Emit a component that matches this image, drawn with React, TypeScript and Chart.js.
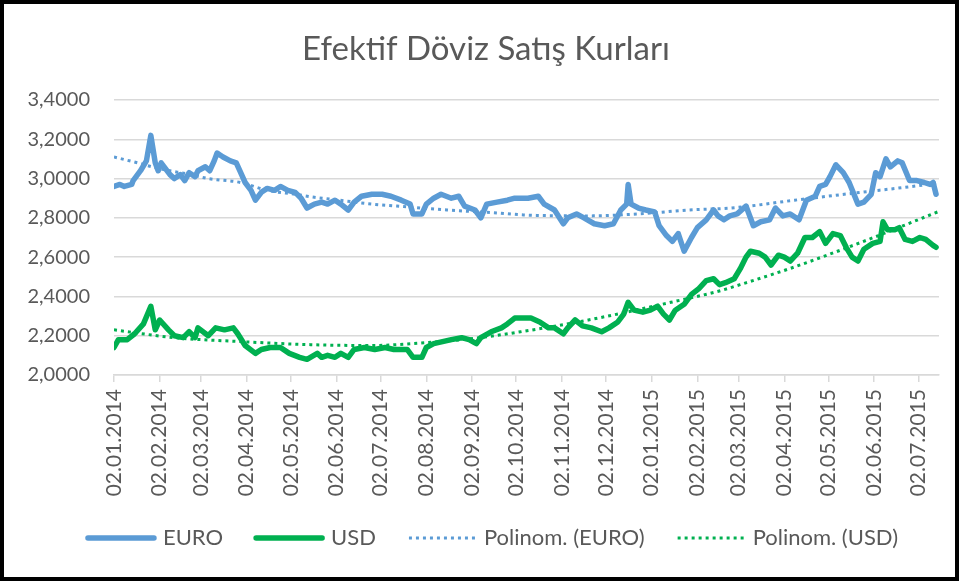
import React, { useEffect, useRef } from "react";
import { Chart, registerables } from "chart.js";
Chart.register(...registerables);

// x values are calendar days counted from 02.01.2014
const tickDays = [0, 31, 59, 90, 120, 151, 181, 212, 243, 273, 304, 334, 365, 396, 424, 455, 485, 516, 546];
const tickLabels = [
  "02.01.2014", "02.02.2014", "02.03.2014", "02.04.2014", "02.05.2014", "02.06.2014",
  "02.07.2014", "02.08.2014", "02.09.2014", "02.10.2014", "02.11.2014", "02.12.2014",
  "02.01.2015", "02.02.2015", "02.03.2015", "02.04.2015", "02.05.2015", "02.06.2015", "02.07.2015",
];
const yTicks = [2.0, 2.2, 2.4, 2.6, 2.8, 3.0, 3.2, 3.4];

const euroDays = [0, 4, 7, 12, 13, 18, 22, 25, 28, 30, 32, 38, 41, 45, 48, 51, 55, 57, 62, 65, 68, 70, 74, 79, 83, 86, 89, 93, 96, 100, 104, 109, 113, 118, 123, 127, 131, 136, 141, 145, 150, 154, 159, 163, 168, 175, 182, 188, 195, 201, 203, 209, 212, 217, 222, 229, 234, 238, 245, 249, 253, 260, 267, 272, 278, 281, 288, 292, 299, 305, 308, 314, 319, 326, 333, 339, 344, 348, 349, 351, 356, 361, 367, 370, 375, 379, 383, 387, 392, 396, 402, 407, 410, 414, 418, 423, 429, 434, 439, 445, 449, 454, 459, 465, 470, 476, 479, 483, 486, 490, 495, 499, 505, 509, 514, 517, 520, 524, 527, 532, 535, 540, 545, 550, 554, 556, 558];
const euroValues = [2.96, 2.97, 2.96, 2.97, 2.99, 3.04, 3.09, 3.22, 3.08, 3.04, 3.08, 3.02, 3.0, 3.02, 2.99, 3.03, 3.01, 3.04, 3.06, 3.04, 3.09, 3.13, 3.11, 3.09, 3.08, 3.03, 2.98, 2.94, 2.89, 2.93, 2.95, 2.94, 2.96, 2.94, 2.93, 2.9, 2.85, 2.87, 2.88, 2.87, 2.89, 2.87, 2.84, 2.88, 2.91, 2.92, 2.92, 2.91, 2.89, 2.87, 2.82, 2.82, 2.87, 2.9, 2.92, 2.9, 2.91, 2.86, 2.84, 2.8, 2.87, 2.88, 2.89, 2.9, 2.9, 2.9, 2.91, 2.87, 2.84, 2.77, 2.8, 2.82, 2.8, 2.77, 2.76, 2.77, 2.84, 2.87, 2.97, 2.87, 2.85, 2.84, 2.83, 2.76, 2.71, 2.68, 2.72, 2.63, 2.7, 2.75, 2.79, 2.84, 2.81, 2.79, 2.81, 2.82, 2.86, 2.76, 2.78, 2.79, 2.85, 2.81, 2.82, 2.79, 2.89, 2.91, 2.96, 2.97, 3.01, 3.07, 3.03, 2.98, 2.87, 2.88, 2.92, 3.03, 3.01, 3.1, 3.06, 3.09, 3.08, 2.99, 2.99, 2.98, 2.97, 2.98, 2.92];

const usdDays = [0, 3, 9, 14, 20, 25, 28, 31, 37, 41, 47, 51, 55, 57, 64, 69, 75, 81, 84, 89, 96, 100, 106, 113, 119, 126, 131, 138, 141, 145, 150, 154, 159, 163, 170, 177, 184, 190, 199, 203, 209, 212, 217, 223, 229, 236, 241, 246, 249, 256, 263, 267, 272, 278, 283, 289, 295, 299, 305, 308, 313, 318, 324, 331, 336, 342, 346, 349, 353, 359, 364, 369, 373, 377, 381, 387, 392, 397, 402, 407, 411, 415, 421, 425, 429, 432, 438, 442, 446, 451, 455, 459, 464, 469, 474, 479, 483, 488, 493, 497, 501, 505, 509, 515, 520, 522, 525, 530, 533, 537, 542, 547, 551, 556, 558];
const usdValues = [2.14, 2.18, 2.18, 2.21, 2.26, 2.35, 2.23, 2.28, 2.23, 2.2, 2.19, 2.22, 2.19, 2.24, 2.2, 2.24, 2.23, 2.24, 2.21, 2.15, 2.11, 2.13, 2.14, 2.14, 2.11, 2.09, 2.08, 2.11, 2.09, 2.1, 2.09, 2.11, 2.09, 2.13, 2.14, 2.13, 2.14, 2.13, 2.13, 2.09, 2.09, 2.14, 2.16, 2.17, 2.18, 2.19, 2.18, 2.16, 2.19, 2.22, 2.24, 2.26, 2.29, 2.29, 2.29, 2.27, 2.24, 2.24, 2.21, 2.24, 2.28, 2.25, 2.24, 2.22, 2.24, 2.27, 2.31, 2.37, 2.33, 2.32, 2.33, 2.35, 2.31, 2.28, 2.33, 2.36, 2.41, 2.44, 2.48, 2.49, 2.46, 2.47, 2.49, 2.54, 2.6, 2.63, 2.62, 2.6, 2.56, 2.61, 2.6, 2.58, 2.62, 2.7, 2.7, 2.73, 2.67, 2.72, 2.71, 2.65, 2.6, 2.58, 2.64, 2.67, 2.68, 2.78, 2.74, 2.74, 2.75, 2.69, 2.68, 2.7, 2.69, 2.66, 2.65];

const euroTrendDays = [0, 16, 31, 52, 64, 86, 104, 123, 136, 153, 175, 192, 226, 260, 278, 322, 356, 390, 419, 462, 507, 552, 560];
const euroTrendValues = [3.11, 3.08, 3.05, 3.02, 3.0, 2.98, 2.94, 2.92, 2.905, 2.89, 2.87, 2.86, 2.84, 2.825, 2.815, 2.81, 2.82, 2.84, 2.85, 2.89, 2.93, 2.97, 2.98];
const usdTrendDays = [0, 41, 86, 131, 173, 213, 248, 276, 322, 378, 412, 425, 458, 484, 519, 559];
const usdTrendValues = [2.23, 2.19, 2.17, 2.155, 2.15, 2.165, 2.19, 2.22, 2.28, 2.37, 2.43, 2.46, 2.54, 2.61, 2.71, 2.83];

const BLUE = "#5B9BD5";
const GREEN = "#00B050";
const TEXT = "#595959";
const GRID = "#d9d9d9";
const FONT = "Lato, 'Open Sans', sans-serif";

const pts = (xs: number[], ys: number[]) => xs.map((x, i) => ({ x, y: ys[i] }));

const titleLegendPlugin = {
  id: "titleLegend",
  afterDraw(chart: any) {
    const ctx = chart.ctx as CanvasRenderingContext2D;
    ctx.save();
    ctx.fillStyle = TEXT;
    ctx.font = `33px ${FONT}`;
    ctx.textAlign = "center";
    ctx.textBaseline = "middle";
    ctx.fillText("Efektif Döviz Satış Kurları", 482, 45);

    const items = [
      { text: "EURO", color: BLUE, width: 5.5, dash: [] as number[] },
      { text: "USD", color: GREEN, width: 5.5, dash: [] as number[] },
      { text: "Polinom. (EURO)", color: BLUE, width: 3, dash: [3, 4] },
      { text: "Polinom. (USD)", color: GREEN, width: 3, dash: [3, 4] },
    ];
    ctx.font = `22px ${FONT}`;
    const sample = 70, gapText = 7, gapItem = 31;
    const widths = items.map((it) => ctx.measureText(it.text).width);
    const total = widths.reduce((a, w) => a + sample + gapText + w, 0) + gapItem * (items.length - 1);
    let x = 488 - total / 2;
    const y = 534;
    items.forEach((it, i) => {
      ctx.beginPath();
      ctx.strokeStyle = it.color;
      ctx.lineWidth = it.width;
      ctx.setLineDash(it.dash);
      ctx.lineCap = it.dash.length ? "butt" : "round";
      ctx.moveTo(x + 2, y);
      ctx.lineTo(x + sample - 2, y);
      ctx.stroke();
      ctx.setLineDash([]);
      ctx.fillStyle = TEXT;
      ctx.textAlign = "left";
      ctx.fillText(it.text, x + sample + gapText, y);
      x += sample + gapText + widths[i] + gapItem;
    });
    ctx.restore();
  },
};

export default function App() {
  const ref = useRef<HTMLCanvasElement | null>(null);
  useEffect(() => {
    document.body.style.margin = "0";
    if (!ref.current) return;
    const lineDs = (label: string, data: any[], color: string, width: number, dash: number[], trend: boolean) => ({
      label,
      data,
      borderColor: color,
      backgroundColor: color,
      borderWidth: width,
      borderDash: dash,
      pointRadius: 0,
      pointHoverRadius: 0,
      fill: false,
      tension: trend ? 0.4 : 0,
      cubicInterpolationMode: trend ? "monotone" : "default",
      borderJoinStyle: "round",
      borderCapStyle: trend ? "butt" : "round",
    });
    const chart = new Chart(ref.current, {
      type: "line",
      data: {
        datasets: [
          lineDs("EURO", pts(euroDays, euroValues), BLUE, 5.5, [], false),
          lineDs("USD", pts(usdDays, usdValues), GREEN, 5.5, [], false),
          lineDs("Polinom. (EURO)", pts(euroTrendDays, euroTrendValues), BLUE, 3, [3, 4], true),
          lineDs("Polinom. (USD)", pts(usdTrendDays, usdTrendValues), GREEN, 3, [3, 4], true),
        ] as any,
      },
      options: {
        animation: false,
        responsive: true,
        maintainAspectRatio: false,
        devicePixelRatio: 1,
        layout: { padding: { left: 0, right: 16, top: 96, bottom: 0 } },
        plugins: { legend: { display: false }, title: { display: false }, tooltip: { enabled: false } },
        scales: {
          x: {
            type: "linear",
            min: 0,
            max: 560,
            afterBuildTicks: (s: any) => {
              s.ticks = tickDays.map((v) => ({ value: v }));
            },
            afterFit: (s: any) => {
              s.height = 202;
            },
            ticks: {
              autoSkip: false,
              maxRotation: 90,
              minRotation: 90,
              padding: 7,
              color: TEXT,
              font: { family: FONT, size: 21 },
              callback: (v: any) => {
                const i = tickDays.indexOf(Number(v));
                return i >= 0 ? tickLabels[i] : "";
              },
            },
            grid: { drawOnChartArea: false, drawTicks: true, tickLength: 7, color: GRID, lineWidth: 1.5 },
            border: { display: true, color: GRID, width: 1.5 },
          },
          y: {
            type: "linear",
            min: 2.0,
            max: 3.4,
            afterBuildTicks: (s: any) => {
              s.ticks = yTicks.map((v) => ({ value: v }));
            },
            afterFit: (s: any) => {
              s.width = 110;
            },
            ticks: {
              padding: 24,
              color: TEXT,
              font: { family: FONT, size: 20 },
              callback: (v: any) => Number(v).toFixed(4).replace(".", ","),
            },
            grid: { drawTicks: false, color: GRID, lineWidth: 1.5 },
            border: { display: false },
          },
        },
      } as any,
      plugins: [titleLegendPlugin],
    });
    return () => chart.destroy();
  }, []);

  return (
    <div
      style={{
        width: 959,
        height: 581,
        boxSizing: "border-box",
        border: "4px solid #000",
        background: "#fff",
        position: "relative",
      }}
    >
      <div style={{ position: "relative", width: 951, height: 573 }}>
        <canvas ref={ref} />
      </div>
    </div>
  );
}
